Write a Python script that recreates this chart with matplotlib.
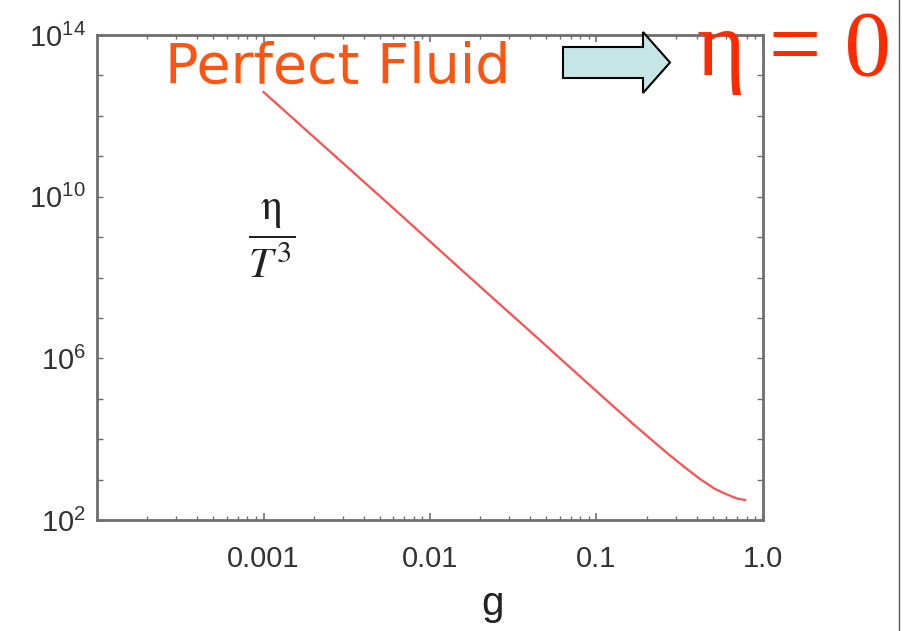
import math
import matplotlib
matplotlib.use("Agg")
import matplotlib.pyplot as plt
from matplotlib.patches import FancyArrow
from matplotlib.lines import Line2D
from matplotlib.ticker import LogLocator, FixedLocator, FuncFormatter, NullFormatter

# Shear viscosity over T^3 versus coupling g
g = [1.0e-3, 2.40e-3, 6.0e-3, 1.51e-2, 2.63e-2, 4.16e-2, 6.65e-2, 0.105,
     0.166, 0.265, 0.340, 0.419, 0.515, 0.608, 0.698, 0.780]
eta_over_T3 = [3.88e12, 1.54e11, 5.24e9, 1.68e8, 2.16e7, 4.0e6, 6.95e5, 1.28e5,
               2.37e4, 4.55e3, 1.99e3, 1.03e3, 5.85e2, 4.28e2, 3.40e2, 3.13e2]

x_ticks = [1e-3, 1e-2, 1e-1, 1.0]
x_tick_labels = ["0.001", "0.01", "0.1", "1.0"]
y_label_exponents = [2, 6, 10, 14]

plt.rcParams["mathtext.fontset"] = "custom"
plt.rcParams["mathtext.rm"] = "Liberation Sans"
plt.rcParams["mathtext.it"] = "Liberation Sans:italic"

W, H = 904, 631
fig = plt.figure(figsize=(W / 100, H / 100), dpi=100)
ax = fig.add_axes([97 / W, 1 - 520 / H, (763 - 97) / W, (520 - 35) / H])

ax.plot(g, eta_over_T3, color="#ff4f4f", lw=1.6, solid_joinstyle="round")
ax.set_xscale("log")
ax.set_yscale("log")
ax.set_xlim(1e-4, 1.0)
ax.set_ylim(1e2, 1e14)

axis_grey = "#6e6e6e"
for s in ax.spines.values():
    s.set_color(axis_grey)
    s.set_linewidth(2)

ax.xaxis.set_major_locator(FixedLocator(x_ticks))
ax.set_xticklabels(x_tick_labels)
ax.xaxis.set_minor_locator(LogLocator(base=10, subs=range(2, 10), numticks=20))
ax.xaxis.set_minor_formatter(NullFormatter())


def decade_label(v, pos):
    k = round(math.log10(v))
    return r"$\mathregular{10^{%d}}$" % k if k in y_label_exponents else ""


ax.yaxis.set_major_locator(FixedLocator([10.0 ** k for k in range(2, 15)]))
ax.yaxis.set_major_formatter(FuncFormatter(decade_label))
ax.yaxis.set_minor_locator(FixedLocator([]))

ax.tick_params(which="both", direction="in", top=True, right=True, color=axis_grey,
               labelcolor="#333333", labelsize=21)
ax.tick_params(axis="x", which="major", length=5, width=1.2, pad=18)
ax.tick_params(axis="x", which="minor", length=3, width=1.0)
ax.tick_params(axis="y", which="major", length=4, width=1.0, pad=8)
for lab in ax.get_xticklabels() + ax.get_yticklabels():
    lab.set_family("Liberation Sans")

ax.set_xlabel("g", fontsize=29, family="Liberation Sans", color="#222222")
ax.xaxis.set_label_coords((493 - 97) / (763 - 97), -0.135)

ax.text(0.262, 0.58, r"$\dfrac{\mathrm{\eta}}{T^{3}}$", transform=ax.transAxes,
        fontsize=31, math_fontfamily="stix", ha="center", va="center", color="#222222")

# Headline annotation
fig.text(165 / W, 1 - 83 / H, "Perfect Fluid", fontsize=40, family="DejaVu Sans",
         color="#ff5310", ha="left", va="baseline")
fig.patches.append(FancyArrow(563 / W, 1 - 62.5 / H, (670 - 563) / W, 0,
                              width=31 / H, head_width=61 / H, head_length=27 / W,
                              length_includes_head=True, transform=fig.transFigure,
                              facecolor="#c6e6e6", edgecolor="black", lw=1.5))
fig.text(697 / W, 1 - 75 / H, "η = 0", fontsize=67, family="Liberation Serif",
         color="#ff2a00", ha="left", va="baseline")

fig.lines.append(Line2D([899 / W, 899 / W], [0, 1], transform=fig.transFigure,
                        color="#555555", lw=1))

fig.savefig("out.png", dpi=100)
